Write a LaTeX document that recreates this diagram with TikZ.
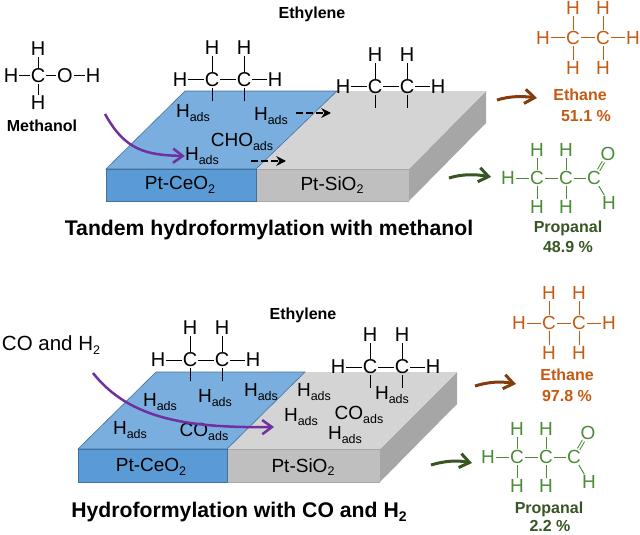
\documentclass[tikz,border=0pt]{standalone}
\usepackage{xcolor}
\usepackage{fontspec}
\setmainfont{Liberation Sans}
\usepackage{tikz}
\usetikzlibrary{arrows.meta,positioning}
\definecolor{bluetop}{HTML}{7AAEDE}
\definecolor{bluefront}{HTML}{5B9BD5}
\definecolor{blueedge}{HTML}{41719C}
\definecolor{graytop}{HTML}{D4D4D4}
\definecolor{grayfront}{HTML}{BFBFBF}
\definecolor{grayside}{HTML}{A6A6A6}
\definecolor{ethaneorange}{HTML}{C55A11}
\definecolor{ethanebrown}{HTML}{843C0C}
\definecolor{propgreen}{HTML}{4B8B35}
\definecolor{propdark}{HTML}{375623}
\definecolor{feedpurple}{HTML}{7030A0}
\newcommand{\adsorbed}[1]{#1\raisebox{-0.45ex}{\fontsize{12.5}{13}\selectfont ads}}
\newcommand{\subtwo}{\raisebox{-0.35ex}{\fontsize{12.5}{13}\selectfont 2}}
% bonded ethylene, C atoms at (0,0) and (32,0)
\newcommand{\ethylene}[3]{
\begin{scope}[shift={(#2,#3)}]
\node[atom] (#1c1) at (0,0) {C};
\node[atom] (#1c2) at (32,0) {C};
\node[atom] (#1h1) at (0,-32) {H};
\node[atom] (#1h2) at (32,-32) {H};
\node[atom] (#1h3) at (-32,0) {H};
\node[atom] (#1h4) at (63,0) {H};
\coordinate (#1d1) at (0,21);
\coordinate (#1d2) at (32,21);
\draw[bond] (#1c1) -- (#1c2);
\draw[bond] (#1c1) -- (#1h1);
\draw[bond] (#1c2) -- (#1h2);
\draw[bond] (#1c1) -- (#1h3);
\draw[bond] (#1c2) -- (#1h4);
\draw[bond] (#1c1) -- (#1d1);
\draw[bond] (#1c2) -- (#1d2);
\end{scope}
}
\newcommand{\ethane}[3]{
\begin{scope}[shift={(#2,#3)}, atom/.append style={text=ethaneorange, font=\fontsize{19}{20}\selectfont}, bond/.append style={draw=ethaneorange}]
\node[atom] (#1c1) at (0,0) {C};
\node[atom] (#1c2) at (30,0) {C};
\node[atom] (#1h1) at (0,-30) {H};
\node[atom] (#1h2) at (30,-30) {H};
\node[atom] (#1h3) at (0,30) {H};
\node[atom] (#1h4) at (30,30) {H};
\node[atom] (#1h5) at (-30,0) {H};
\node[atom] (#1h6) at (60,0) {H};
\foreach \a/\b in {c1/c2,c1/h1,c2/h2,c1/h3,c2/h4,c1/h5,c2/h6}
  \draw[bond] (#1\a) -- (#1\b);
\end{scope}
}
\newcommand{\propanal}[3]{
\begin{scope}[shift={(#2,#3)}, atom/.append style={text=propgreen, font=\fontsize{19}{20}\selectfont}, bond/.append style={draw=propgreen}]
\node[atom] (#1c1) at (0,0) {C};
\node[atom] (#1c2) at (29,0) {C};
\node[atom] (#1c3) at (57,0) {C};
\node[atom] (#1h1) at (0,-28) {H};
\node[atom] (#1h2) at (29,-28) {H};
\node[atom] (#1h3) at (0,29) {H};
\node[atom] (#1h4) at (29,29) {H};
\node[atom] (#1h5) at (-29,0) {H};
\node[atom] (#1o) at (71,-24) {O};
\node[atom] (#1h6) at (72,25) {H};
\foreach \a/\b in {c1/c2,c2/c3,c1/h1,c2/h2,c1/h3,c2/h4,c1/h5,c3/h6}
  \draw[bond] (#1\a) -- (#1\b);
\draw[bond, double, double distance=1.6pt] (#1c3) -- (#1o);
\end{scope}
}
\begin{document}
\begin{tikzpicture}[
    x=1pt, y=-1pt,
    atom/.style={inner sep=1pt, font=\fontsize{20}{21}\selectfont},
    bond/.style={line width=1pt, draw=black},
    lbl/.style={inner sep=0pt, font=\fontsize{19}{20}\selectfont},
    plain/.style={inner sep=0pt, font=\fontsize{20.5}{22}\selectfont},
    nametag/.style={inner sep=0pt, font=\bfseries\fontsize{16}{18}\selectfont},
    heading/.style={inner sep=0pt, font=\bfseries\fontsize{21.2}{23}\selectfont},
    hopper/.style={-{Straight Barb[length=3.4mm,width=5mm,line width=3pt]}, line width=3pt},
    feed/.style={-{Straight Barb[length=3.4mm,width=5mm,line width=2.5pt]}, line width=2.5pt, draw=feedpurple},
    spill/.style={-{Stealth[length=3.4mm,width=3.4mm]}, line width=2.4pt, dash pattern=on 7pt off 3pt}
]
\useasboundingbox (0,0) rectangle (640,535);

% upper slab
\fill[grayside] (409,169) -- (486,91) -- (486,123) -- (409,201) -- cycle;
\fill[graytop] (256,169) -- (337,91) -- (486,91) -- (409,169) -- cycle;
\fill[grayfront] (256,169) rectangle (409,201);
\draw[grayside, line width=0.4pt] (256,201) -- (409,201) (409,169) -- (256,169);
\filldraw[fill=bluetop, draw=blueedge, line width=0.6pt] (106,169) -- (185,91) -- (337,91) -- (256,169) -- cycle;
\filldraw[fill=bluefront, draw=blueedge, line width=0.6pt] (106,169) rectangle (256,201);

% lower slab
\fill[grayside] (380,449) -- (457,372) -- (457,404) -- (380,482) -- cycle;
\fill[graytop] (227,449) -- (305,372) -- (457,372) -- (380,449) -- cycle;
\fill[grayfront] (227,449) rectangle (380,482);
\draw[grayside, line width=0.4pt] (227,482) -- (380,482) (380,449) -- (227,449);
\filldraw[fill=bluetop, draw=blueedge, line width=0.6pt] (78,449) -- (156,372) -- (305,372) -- (227,449) -- cycle;
\filldraw[fill=bluefront, draw=blueedge, line width=0.6pt] (78,449) rectangle (227,482);

% upper panel
\node[atom] (mc) at (38,76) {C};
\node[atom] (mh1) at (38,49) {H};
\node[atom] (mh2) at (38,103) {H};
\node[atom] (mh3) at (11,76) {H};
\node[atom] (mo) at (65,76) {O};
\node[atom] (mh4) at (93,76) {H};
\foreach \a/\b in {mc/mh1,mc/mh2,mc/mh3,mc/mo,mo/mh4}
  \draw[bond] (\a) -- (\b);
\node[nametag] (methanol) at (42,126) {Methanol};
\node[nametag] (ethyleneA) at (312,14) {Ethylene};
\ethylene{ea}{212}{80}
\ethylene{eb}{375}{87}
\node[lbl] (ha1) at (193,113) {\adsorbed{H}};
\node[lbl] (ha2) at (271,116) {\adsorbed{H}};
\node[lbl] (cho) at (242,142) {\adsorbed{CHO}};
\node[lbl] (ha3) at (202,156) {\adsorbed{H}};
\node[lbl] (ceA) at (180,185) {Pt-CeO\subtwo};
\node[lbl] (siA) at (332,185) {Pt-SiO\subtwo};
\node[heading] (titleA) at (269,230) {Tandem hydroformylation with methanol};
\ethane{pa}{573}{38}
\propanal{qa}{537}{178}
\node[nametag, text=ethaneorange] (ethaneA) at (580,95) {Ethane};
\node[nametag, text=ethaneorange] (yieldA) at (586,116) {51.1 \%};
\node[nametag, text=propdark] (propA) at (568,228) {Propanal};
\node[nametag, text=propdark] (yieldB) at (568,247) {48.9 \%};
\coordinate (startA) at (105,114);
\coordinate (hopA1) at (497,100);
\coordinate (hopA2) at (537,98);
\coordinate (hopA3) at (449,178);
\coordinate (hopA4) at (491,177);
\coordinate (spillA1) at (296,113);
\coordinate (spillA2) at (331,113);
\coordinate (spillA3) at (251,161);
\coordinate (spillA4) at (286,161);
\draw[feed] (startA) .. controls (125,150) and (145,155) .. (ha3.west);
\draw[hopper, draw=ethanebrown] (hopA1) .. controls (510,96) and (522,96) .. (hopA2);
\draw[hopper, draw=propdark] (hopA3) .. controls (462,174) and (475,174) .. (hopA4);
\draw[spill] (spillA1) -- (spillA2);
\draw[spill] (spillA3) -- (spillA4);

% lower panel
\node[plain] (feedgas) at (51,345) {CO and H\subtwo};
\node[nametag] (ethyleneB) at (303,315) {Ethylene};
\ethylene{ec}{190}{360}
\ethylene{ed}{370}{367}
\node[lbl] (hb1) at (160,402) {\adsorbed{H}};
\node[lbl] (hb2) at (215,398) {\adsorbed{H}};
\node[lbl] (hb3) at (261,392) {\adsorbed{H}};
\node[lbl] (hb4) at (130,430) {\adsorbed{H}};
\node[lbl] (cob) at (204,432) {\adsorbed{CO}};
\node[lbl] (hb5) at (314,392) {\adsorbed{H}};
\node[lbl] (hb6) at (301,417) {\adsorbed{H}};
\node[lbl] (coc) at (359,415) {\adsorbed{CO}};
\node[lbl] (hb7) at (345,435) {\adsorbed{H}};
\node[lbl] (hb8) at (392,395) {\adsorbed{H}};
\node[lbl] (ceB) at (151,467) {Pt-CeO\subtwo};
\node[lbl] (siB) at (303,467) {Pt-SiO\subtwo};
\node[heading] (titleB) at (239,512) {Hydroformylation with CO and H\raisebox{-0.35ex}{\fontsize{14}{15}\selectfont 2}};
\ethane{pb}{549}{323}
\propanal{qb}{517}{457}
\node[nametag, text=ethaneorange] (ethaneB) at (567,375) {Ethane};
\node[nametag, text=ethaneorange] (yieldC) at (567,396) {97.8 \%};
\node[nametag, text=propdark] (propB) at (549,509) {Propanal};
\node[nametag, text=propdark] (yieldD) at (550,526) {2.2 \%};
\coordinate (startB) at (93,373);
\coordinate (endB) at (274,427);
\coordinate (hopB1) at (475,386);
\coordinate (hopB2) at (516,384);
\coordinate (hopB3) at (431,465);
\coordinate (hopB4) at (472,463);
\draw[feed] (startB) .. controls (130,420) and (190,428) .. (endB);
\draw[hopper, draw=ethanebrown] (hopB1) .. controls (488,382) and (500,381) .. (hopB2);
\draw[hopper, draw=propdark] (hopB3) .. controls (444,461) and (457,460) .. (hopB4);
\end{tikzpicture}
\end{document}
